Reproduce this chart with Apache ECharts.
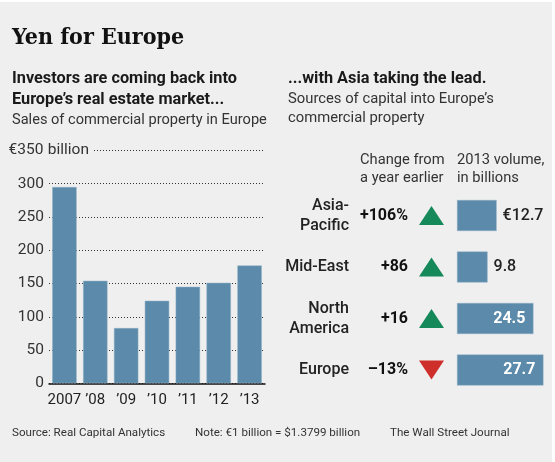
<!DOCTYPE html>
<html>
<head>
<meta charset="utf-8">
<script src="https://cdn.jsdelivr.net/npm/echarts@6/dist/echarts.min.js"></script>
<style>
html,body{margin:0;padding:0;background:#fff;}
#c{width:555px;height:462px;}
</style>
</head>
<body>
<div id="c"></div>
<script>
// ---- data ----
const years = ['2007', '\u201908', '\u201909', '\u201910', '\u201911', '\u201912', '\u201913'];
const sales = [295, 154, 83, 124, 145, 151, 177];
const yTicks = [0, 50, 100, 150, 200, 250, 300, 350];

const regions = ['Asia-\nPacific', 'Mid-East', 'North\nAmerica', 'Europe'];
const changes = [106, 86, 16, -13];
const changeLabels = ['+106%', '+86', '+16', '\u201313%'];
const volumes = [12.7, 9.8, 24.5, 27.7];
const volumeLabels = ['\u20ac12.7', '9.8', '24.5', '27.7'];

const FONT = 'Roboto, "Liberation Sans", sans-serif';
const BLUE = '#5b8aaa';
const BG = '#efefef';

const chart = echarts.init(document.getElementById('c'), null, {renderer: 'canvas'});

const t = (x, y, text, size, weight, fam, fill) => ({
  type: 'text', left: x, top: y,
  style: {text: text, fontFamily: fam || FONT, fontSize: size, fontWeight: weight || 'normal', fill: fill || '#333'}
});

chart.setOption({
  backgroundColor: '#fff',
  animation: false,
  graphic: [
    {type: 'rect', left: 0, top: 2, shape: {width: 552, height: 460}, style: {fill: BG}, z: -10},
    t(12, 27, 'Yen for Europe', 23, 'bold', '"DejaVu Serif Condensed", "DejaVu Serif", serif', '#111'),
    t(12, 71, 'Investors are coming back into', 16.3, 'bold', FONT, '#1a1a1a'),
    t(12, 92, 'Europe\u2019s real estate market...', 16.3, 'bold', FONT, '#1a1a1a'),
    t(12, 113, 'Sales of commercial property in Europe', 14.6),
    t(288, 71, '...with Asia taking the lead.', 16.3, 'bold', FONT, '#1a1a1a'),
    t(288, 92, 'Sources of capital into Europe\u2019s', 14.8),
    t(288, 111, 'commercial property', 14.8),
    t(360, 153, 'Change from', 14.7),
    t(360, 171, 'a year earlier', 14.7),
    t(457, 153, '2013 volume,', 14.7),
    t(457, 171, 'in billions', 14.7),
    t(12, 427, 'Source: Real Capital Analytics', 11.6),
    t(195, 427, 'Note: \u20ac1 billion = $1.3799 billion', 11.6),
    t(390, 427, 'The Wall Street Journal', 11.6)
  ],
  grid: [
    {left: 49, width: 216, top: 150.4, height: 232.9},
    {left: 457, width: 93.6, top: 189.75, height: 206},
    {left: 419, width: 25, top: 189.75, height: 206}
  ],
  xAxis: [
    {
      gridIndex: 0, type: 'category', data: years,
      axisLine: {lineStyle: {color: '#111', width: 1.5}},
      axisTick: {alignWithLabel: true, length: 5, lineStyle: {color: '#111'}},
      axisLabel: {margin: 9, fontFamily: FONT, fontSize: 15, color: '#222', interval: 0}
    },
    {gridIndex: 1, type: 'value', min: 0, max: 30, show: false},
    {gridIndex: 2, type: 'value', min: 0, max: 1, show: false}
  ],
  yAxis: [
    {
      gridIndex: 0, type: 'value', min: 0, max: 350, interval: 50,
      axisLine: {show: false}, axisTick: {show: false},
      splitLine: {lineStyle: {color: '#333', type: [1, 2], width: 1}},
      axisLabel: {
        align: 'left', margin: 41, color: '#333',
        formatter: function (v) {
          return v === yTicks[yTicks.length - 1] ? '{n|\u20ac' + v + '}{b| billion }' : '{n|' + v + '}';
        },
        rich: {
          n: {width: 36, align: 'right', fontFamily: FONT, fontSize: 15.5, color: '#333'},
          b: {fontFamily: FONT, fontSize: 15.5, color: '#333', backgroundColor: BG}
        }
      }
    },
    {
      gridIndex: 1, type: 'category', data: regions, inverse: true,
      axisLine: {show: false}, axisTick: {show: false},
      axisLabel: {margin: 108, fontFamily: FONT, fontSize: 16, fontWeight: 500, color: '#222', lineHeight: 20, align: 'right'}
    },
    {gridIndex: 2, type: 'category', data: regions, inverse: true, show: false}
  ],
  series: [
    {
      type: 'bar', xAxisIndex: 0, yAxisIndex: 0, data: sales,
      barCategoryGap: '21%',
      itemStyle: {color: BLUE, borderColor: '#8eb0c7', borderWidth: 0.5}
    },
    {
      type: 'bar', xAxisIndex: 1, yAxisIndex: 1, barWidth: 31,
      data: volumes.map(function (v, i) {
        const inside = v > 20;
        return {
          value: v,
          label: inside
            ? {show: true, position: 'insideRight', distance: 8, formatter: volumeLabels[i], color: '#fff', fontWeight: 'bold', fontSize: 16, fontFamily: FONT}
            : {show: true, position: 'right', distance: 6, formatter: volumeLabels[i], color: '#222', fontWeight: 500, fontSize: 16, fontFamily: FONT}
        };
      }),
      itemStyle: {color: BLUE, borderColor: '#8eb0c7', borderWidth: 0.5}
    },
    {
      type: 'scatter', xAxisIndex: 2, yAxisIndex: 2,
      data: changes.map(function (c, i) {
        return {
          value: [0.5, i],
          symbolRotate: c >= 0 ? 0 : 180,
          itemStyle: {color: c >= 0 ? '#16895a' : '#cf2f2a', opacity: 1},
          label: {formatter: changeLabels[i]}
        };
      }),
      symbol: 'triangle', symbolSize: [25, 19],
      itemStyle: {opacity: 1},
      label: {show: true, position: 'left', distance: 11, fontFamily: FONT, fontSize: 16, fontWeight: 'bold', color: '#111'}
    }
  ]
});
</script>
</body>
</html>
